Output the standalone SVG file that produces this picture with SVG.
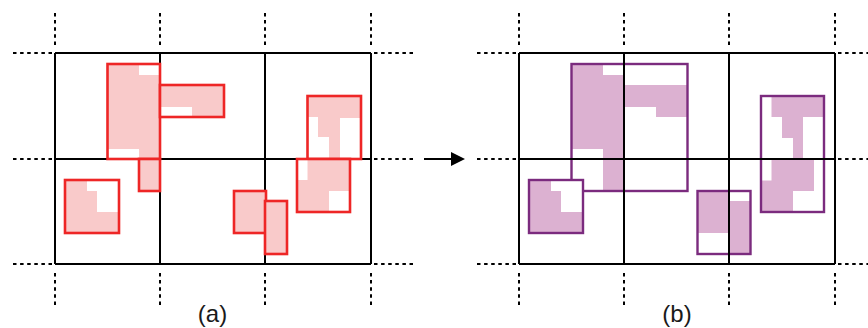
<svg xmlns="http://www.w3.org/2000/svg" width="868" height="328" viewBox="0 0 868 328">
<style>
.bg{fill:#ffffff}
.grid{stroke:#000;stroke-width:2;fill:none}
.dot{stroke:#000;stroke-width:2;stroke-dasharray:3.5 3.6;fill:none}
.rf{fill:#f9caca;stroke:none}
.rs{fill:none;stroke:#ee2626;stroke-width:2.6}
.pf{fill:#dcb1d1;stroke:none}
.ps{fill:none;stroke:#7b2b7e;stroke-width:2.4}
.w{fill:#ffffff;stroke:none}
.lbl{font-family:"Liberation Sans",Arial,sans-serif;font-size:24px;fill:#1a1a1a;text-anchor:middle}
</style>
<rect class="bg" x="0" y="0" width="868" height="328"/>

<!-- left grid -->
<g id="grid-a">
  <path class="dot" d="M55,13V46M160,13V46M265,13V46M371,13V46M55,273V306M160,273V306M265,273V306M371,273V306"/>
  <path class="dot" d="M13,53H53M13,159H53M13,264H53M374,53H413M374,159H413M374,264H413"/>
  <path class="grid" d="M55,53H371M55,159H371M55,264H371M55,53V264M160,53V264M265,53V264M371,53V264"/>
</g>

<!-- left rects -->
<g id="a-rect-A">
  <rect class="rf" x="107.5" y="64" width="52.5" height="95"/>
  <rect class="w" x="139" y="64" width="21" height="11"/>
  <rect class="w" x="107.5" y="149" width="31.5" height="10"/>
  <rect class="rs" x="107.5" y="64" width="52.5" height="95"/>
</g>
<g id="a-rect-B">
  <rect class="rf" x="160" y="85" width="64" height="32"/>
  <rect class="w" x="160" y="107" width="32" height="10"/>
  <rect class="rs" x="160" y="85" width="64" height="32"/>
</g>
<g id="a-rect-C">
  <rect class="rf" x="139" y="159" width="21" height="32"/>
  <rect class="rs" x="139" y="159" width="21" height="32"/>
</g>
<g id="a-rect-D">
  <rect class="rf" x="65" y="180" width="54" height="53"/>
  <polygon class="w" points="87,180 119,180 119,212 97,212 97,191 87,191"/>
  <rect class="rs" x="65" y="180" width="54" height="53"/>
</g>
<g id="a-rect-E">
  <rect class="rf" x="307.5" y="96" width="53.5" height="63"/>
  <polygon class="w" points="307.5,117 318,117 318,137 329,137 329,159 307.5,159"/>
  <rect class="w" x="340" y="118" width="21" height="41"/>
  <rect class="rs" x="307.5" y="96" width="53.5" height="63"/>
</g>
<g id="a-rect-F">
  <rect class="rf" x="297" y="159" width="53" height="53"/>
  <rect class="w" x="297" y="159" width="10.5" height="21"/>
  <rect class="w" x="329" y="191" width="21" height="21"/>
  <rect class="rs" x="297" y="159" width="53" height="53"/>
</g>
<g id="a-rect-G">
  <rect class="rf" x="234" y="191" width="32" height="42"/>
  <rect class="rs" x="234" y="191" width="32" height="42"/>
</g>
<g id="a-rect-H">
  <rect class="rf" x="265" y="201" width="22" height="53"/>
  <rect class="rs" x="265" y="201" width="22" height="53"/>
</g>

<!-- right fills -->
<g id="b-rect-1">
  <rect class="pf" x="571" y="64" width="53" height="95"/>
  <rect class="w" x="603" y="64" width="21" height="11"/>
  <rect class="w" x="571" y="149" width="32" height="10"/>
  <rect class="pf" x="624" y="85" width="63" height="22"/>
  <rect class="pf" x="656" y="107" width="31" height="10"/>
  <rect class="pf" x="603" y="159" width="21" height="32"/>
  <rect class="ps" x="571.5" y="64" width="116" height="127"/>
</g>
<g id="b-rect-2">
  <rect class="pf" x="529" y="180" width="54" height="53"/>
  <polygon class="w" points="551,180 583,180 583,212 561,212 561,191 551,191"/>
  <rect class="ps" x="529" y="180" width="54" height="53"/>
</g>
<g id="b-rect-3">
  <rect class="pf" x="698" y="191" width="32" height="42"/>
  <rect class="pf" x="729" y="201" width="22" height="53"/>
  <rect class="ps" x="697.5" y="191" width="53" height="63"/>
</g>
<g id="b-rect-4">
  <rect class="pf" x="771.5" y="96" width="52" height="21"/>
  <rect class="pf" x="782" y="117" width="21" height="21"/>
  <rect class="pf" x="793" y="138" width="10" height="21"/>
  <rect class="pf" x="761" y="159" width="53" height="53"/>
  <rect class="w" x="761" y="159" width="10.5" height="21.5"/>
  <rect class="w" x="793" y="191" width="21" height="21"/>
  <rect class="ps" x="761" y="96" width="63" height="116"/>
</g>

<!-- right grid (on top) -->
<g id="grid-b">
  <path class="dot" d="M519,13V46M624,13V46M729,13V46M835,13V46M519,273V306M624,273V306M729,273V306M835,273V306"/>
  <path class="dot" d="M477,53H517M477,159H517M477,264H517M838,53H868M838,159H868M838,264H868"/>
  <path class="grid" d="M519,53H835M519,159H835M519,264H835M519,53V264M624,53V264M729,53V264M835,53V264"/>
</g>

<g id="connectors">
  <line x1="424" y1="159" x2="453" y2="159" stroke="#000" stroke-width="2"/>
  <polygon points="451,152 465,159 451,166" fill="#000"/>
</g>

<text class="lbl" x="212.5" y="321.5">(a)</text>
<text class="lbl" x="677" y="321.5">(b)</text>
</svg>
